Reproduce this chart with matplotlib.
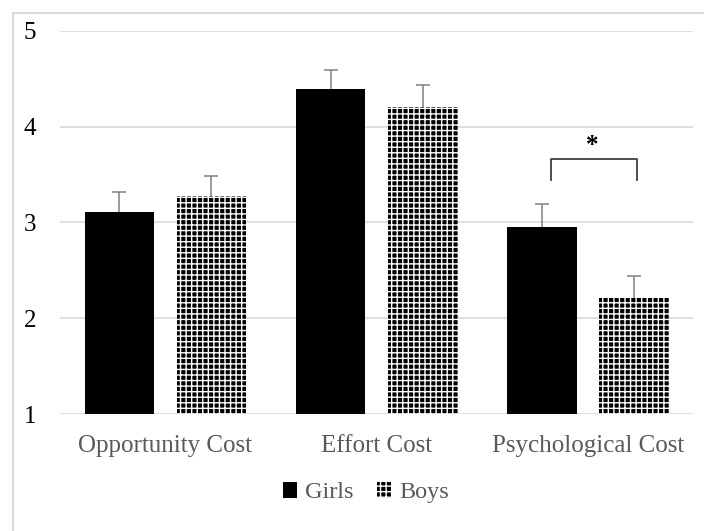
import matplotlib.pyplot as plt
import numpy as np
from matplotlib.patches import Rectangle

categories = ["Opportunity Cost", "Effort Cost", "Psychological Cost"]
girls = [3.11, 4.39, 2.95]
boys = [3.28, 4.21, 2.21]
girls_err = [0.21, 0.20, 0.24]
boys_err = [0.21, 0.22, 0.23]

plt.rcParams['font.family'] = ['Liberation Serif', 'DejaVu Serif']
plt.rcParams['hatch.linewidth'] = 1.0

fig = plt.figure(figsize=(7.04, 5.31), dpi=100)
ax = fig.add_axes([0.085, 0.22, 0.9, 0.722])

x = np.arange(len(categories))
w = 0.33
off = 0.218
ax.bar(x - off, girls, w, color='black', label='Girls', zorder=3)
ax.bar(x + off, boys, w, color='black', edgecolor='white', linewidth=0,
       hatch='+++', label='Boys', zorder=3)
for xs, vals, errs in [(x - off, girls, girls_err), (x + off, boys, boys_err)]:
    _, caps, _ = ax.errorbar(xs, vals, yerr=[np.zeros(3), errs], fmt='none',
                             ecolor='#808080', elinewidth=1.1, capsize=5,
                             capthick=1.1, zorder=4)
    caps[0].set_visible(False)

# significance bracket
ax.plot([1.825, 1.825, 2.232, 2.232], [3.44, 3.66, 3.66, 3.44],
        color='#404040', lw=1.3, zorder=4)
ax.text(2.02, 3.68, '*', ha='center', va='bottom', fontsize=18, fontweight='bold')

ax.set_ylim(1, 5)
ax.set_xlim(-0.5, 2.5)
ax.set_yticks([1, 2, 3, 4, 5])
ax.set_xticks(x)
ax.set_xticklabels(categories)
ax.tick_params(length=0, labelsize=18)
ax.tick_params(axis='x', colors='#595959', pad=15)
ax.tick_params(axis='y', labelcolor='black', pad=17)
ax.grid(axis='y', color='#d9d9d9', lw=1.2, zorder=0)
for s in ax.spines.values():
    s.set_visible(False)

ax.legend(loc='center', bbox_to_anchor=(0.483, -0.205), ncol=2, frameon=False,
          fontsize=17.5, handlelength=0.6, handleheight=0.6, handletextpad=0.3,
          columnspacing=1.0, labelcolor='#595959')

fig.add_artist(Rectangle((13 / 704, -0.05), 1.0, 1.05 - 13 / 531,
                         transform=fig.transFigure, fill=False,
                         edgecolor='#d9d9d9', lw=1.5))

fig.savefig('out.png', dpi=100)
